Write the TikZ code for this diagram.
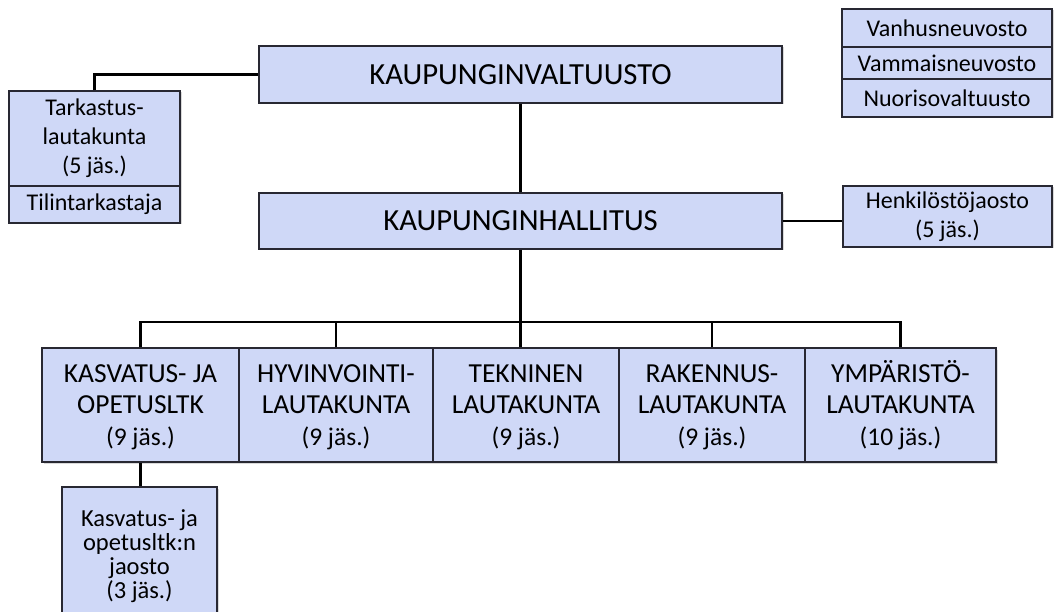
\documentclass[tikz,border=0pt]{standalone}
\usepackage{fontspec}
\setmainfont{Carlito}
\usepackage{tikz}
\usetikzlibrary{positioning,shadows}
\definecolor{kblue}{RGB}{207,216,247}
\definecolor{kline}{RGB}{40,40,50}
\tikzstyle{box} = [draw=kline, line width=1.3pt, fill=kblue, align=center, inner sep=0pt, drop shadow={opacity=0.3, shadow xshift=1.5pt, shadow yshift=-1.5pt}]
\tikzstyle{conn} = [line width=2.4pt, black]
\newcommand{\kbig}{\fontsize{30.7}{36}\selectfont}
\newcommand{\kmid}{\fontsize{27.5}{31.5}\selectfont}
\newcommand{\kmem}{\fontsize{25.5}{31.5}\selectfont}
\newcommand{\ksmall}{\fontsize{24}{29}\selectfont}
\newcommand{\kfirst}{\vphantom{Ä}}

\begin{document}
\begin{tikzpicture}[x=1pt, y=-1pt]
\useasboundingbox (0,0) rectangle (1055,612);
% Council and board
\node[box, minimum width=523, minimum height=57, font=\kbig] (valt) at (520.5,74.5) {KAUPUNGINVALTUUSTO};
\node[box, minimum width=523, minimum height=56, font=\kbig] (hall) at (520.5,221) {KAUPUNGINHALLITUS};

% Audit
\node[box, minimum width=171, minimum height=95, font=\ksmall] (tark) at (94.5,138.5) {Tarkastus-\\lautakunta\\(5 jäs.)};
\node[box, minimum width=171, minimum height=37, font=\ksmall] (tili) at (94.5,204.5) {Tilintarkastaja};

% Councils, top right
\node[box, minimum width=210, minimum height=38, font=\ksmall] (vanh) at (947,28) {Vanhusneuvosto};
\node[box, minimum width=210, minimum height=32, font=\ksmall] (vamm) at (947,63) {Vammaisneuvosto};
\node[box, minimum width=210, minimum height=38, font=\ksmall] (nuor) at (947,98) {Nuorisovaltuusto};

% Personnel division
\node[box, minimum width=209, minimum height=61, font=\ksmall] (henk) at (947.5,216.5) {Henkilöstöjaosto\\(5 jäs.)};

% Committees
\node[box, minimum width=197, minimum height=114, font=\kmid] (kasv) at (140.5,405) {\kfirst KASVATUS- JA\\OPETUSLTK\\{\kmem(9 jäs.)}};
\node[box, minimum width=194, minimum height=114, font=\kmid] (hyv) at (336,405) {\kfirst HYVINVOINTI-\\LAUTAKUNTA\\{\kmem(9 jäs.)}};
\node[box, minimum width=186, minimum height=114, font=\kmid] (tek) at (526,405) {\kfirst TEKNINEN\\LAUTAKUNTA\\{\kmem(9 jäs.)}};
\node[box, minimum width=186, minimum height=114, font=\kmid] (rak) at (712,405) {\kfirst RAKENNUS-\\LAUTAKUNTA\\{\kmem(9 jäs.)}};
\node[box, minimum width=191, minimum height=114, font=\kmid] (ymp) at (900.5,405) {\kfirst YMPÄRISTÖ-\\LAUTAKUNTA\\{\kmem(10 jäs.)}};

% Division of the education committee
\node[box, minimum width=155, minimum height=138, font=\fontsize{24.5}{24}\selectfont] (jaos) at (139.5,556) {Kasvatus- ja\\opetusltk:n\\jaosto\\(3 jäs.)};

% Lines
\coordinate (bus) at (520.5,322);
\draw[conn] (tark.north) |- (valt.west);
\draw[conn] (valt.south) -- (hall.north);
\draw[conn] (hall.east) -- (hall.east -| henk.west);
\draw[conn] (hall.south) -- (bus);
\draw[conn] (kasv.north) |- (bus) -| (ymp.north);
\draw[conn] (bus) -- (bus |- tek.north);
\draw[conn] (hyv.north) -- (hyv.north |- bus);
\draw[conn] (rak.north) -- (rak.north |- bus);
\draw[conn] (kasv.south) -- (kasv.south |- jaos.north);
\end{tikzpicture}
\end{document}
